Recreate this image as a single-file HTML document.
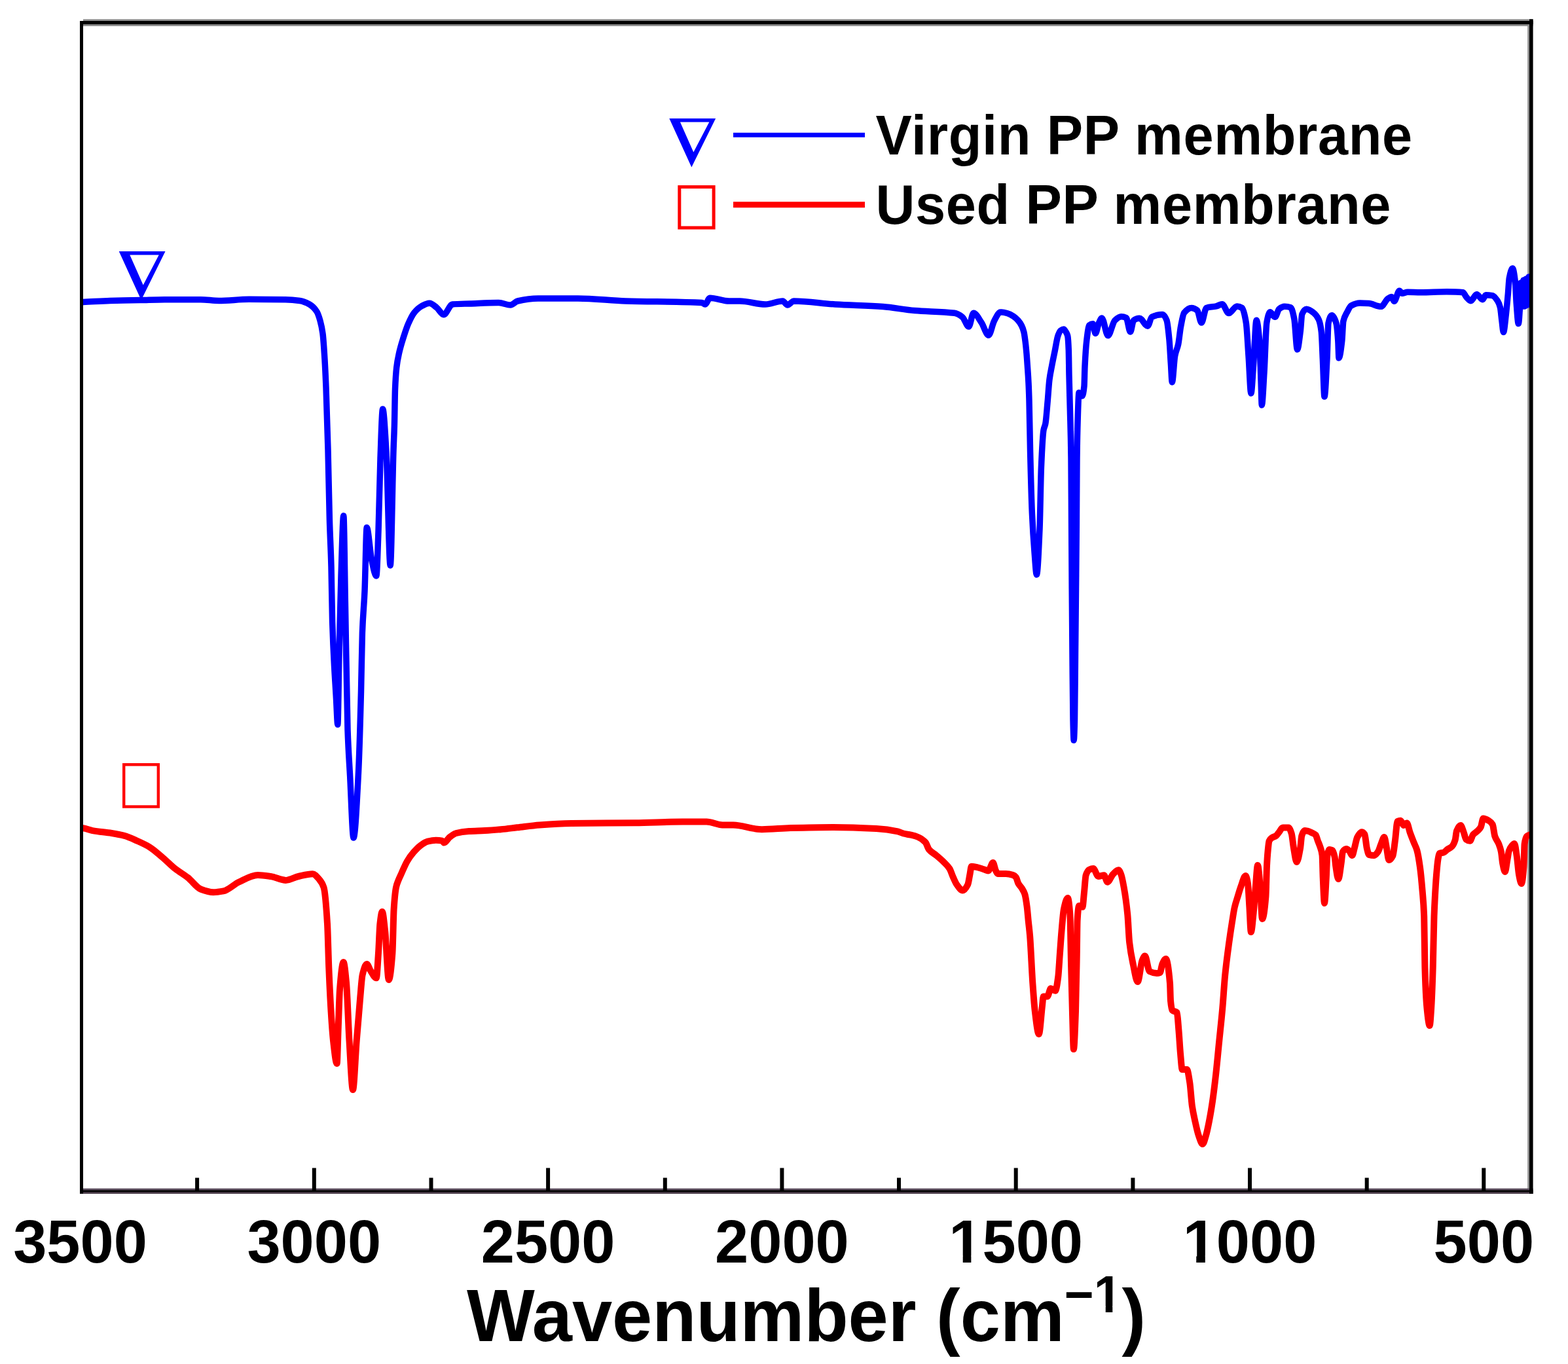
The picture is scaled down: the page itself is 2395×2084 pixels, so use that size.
<!DOCTYPE html>
<html><head><meta charset="utf-8"><title>FTIR spectra</title>
<style>html,body{margin:0;padding:0;background:#fff;}svg{display:block;}text{font-family:"Liberation Sans",sans-serif;font-weight:bold;fill:#000;}</style>
</head><body>
<svg width="2395" height="2084" viewBox="0 0 2395 2084">
<rect x="0" y="0" width="2395" height="2084" fill="#fff"/>
<defs><clipPath id="c"><rect x="124.5" y="34.6" width="2214.1" height="1785.2"/></clipPath></defs>
<rect x="2333.2" y="37" width="2.8" height="1780" fill="#8f8f8f"/>
<g clip-path="url(#c)" fill="none" stroke-linejoin="round" stroke-linecap="round">
<path d="M124.00,461.50C125.00,461.47 126.00,461.44 127.00,461.40C140.67,460.89 154.33,459.88 168.00,459.50C183.43,459.07 198.87,458.94 214.30,458.60C226.60,458.33 238.90,457.70 251.20,457.70C269.67,457.70 288.13,457.70 306.60,457.70C315.83,457.70 325.07,459.50 334.30,459.50C349.67,459.50 365.03,457.30 380.40,457.30C398.87,457.30 417.33,457.42 435.80,457.70C443.17,457.81 450.53,458.47 457.90,459.50C462.83,460.19 467.77,462.27 472.70,465.00C476.40,467.04 480.10,470.32 483.80,476.00C485.53,478.66 487.27,483.85 489.00,490.00C490.33,494.73 491.67,500.09 493.00,510.00C494.00,517.43 495.00,533.44 496.00,550.00C496.67,561.04 497.33,575.39 498.00,592.00C499.00,616.92 500.00,649.74 501.00,687.00C501.80,716.81 502.60,766.58 503.40,794.00C504.27,823.70 505.13,833.78 506.00,866.00C506.53,885.82 507.07,933.10 507.60,950.00C509.57,1012.30 511.53,1032.34 513.50,1068.00C514.27,1081.90 515.03,1107.00 515.80,1107.00C516.53,1107.00 517.27,1032.35 518.00,1000.00C519.00,955.88 520.00,910.46 521.00,880.00C522.27,841.42 523.53,788.00 524.80,788.00C525.70,788.00 526.60,879.73 527.50,927.00C528.67,988.28 529.83,1081.61 531.00,1115.00C532.20,1149.34 533.40,1162.76 534.60,1185.00C536.40,1218.36 538.20,1280.00 540.00,1280.00C542.50,1280.00 545.00,1228.58 547.50,1180.00C548.83,1154.09 550.17,1106.98 551.50,1056.00C552.13,1031.79 552.77,984.12 553.40,967.00C554.60,934.57 555.80,930.03 557.00,903.00C558.07,878.97 559.13,806.00 560.20,806.00C562.67,806.00 565.13,843.78 567.60,855.00C570.00,865.92 572.40,880.00 574.80,880.00C575.87,880.00 576.93,840.98 578.00,812.00C579.00,784.84 580.00,726.97 581.00,700.00C582.20,667.63 583.40,625.00 584.60,625.00C586.40,625.00 588.20,659.95 590.00,690.00C592.07,724.50 594.13,864.00 596.20,864.00C597.80,864.00 599.40,736.58 601.00,688.00C601.47,673.83 601.93,666.62 602.40,650.00C602.77,636.94 603.13,604.08 603.50,595.00C604.23,576.84 604.97,567.96 605.70,561.60C607.00,550.33 608.30,545.14 609.60,539.30C611.67,530.01 613.73,523.63 615.80,517.00C618.40,508.66 621.00,500.53 623.60,494.60C626.57,487.84 629.53,481.54 632.50,477.90C636.23,473.32 639.97,469.88 643.70,467.90C647.80,465.72 651.90,463.30 656.00,463.30C659.67,463.30 663.33,467.21 667.00,470.00C670.53,472.69 674.07,480.70 677.60,480.70C682.07,480.70 686.53,465.40 691.00,465.00C699.83,464.21 708.67,464.22 717.50,463.90C732.13,463.37 746.77,462.50 761.40,462.50C767.47,462.50 773.53,466.00 779.60,466.00C783.27,466.00 786.93,460.84 790.60,460.00C801.07,457.60 811.53,456.00 822.00,456.00C842.27,456.00 862.53,456.00 882.80,456.00C907.10,456.00 931.40,459.22 955.70,460.00C994.47,461.24 1033.23,460.28 1072.00,462.50C1073.67,462.60 1075.33,465.00 1077.00,465.00C1079.47,465.00 1081.93,455.20 1084.40,455.20C1094.10,455.20 1103.80,460.00 1113.50,460.00C1119.00,460.00 1124.50,460.00 1130.00,460.00C1142.97,460.00 1155.93,465.00 1168.90,465.00C1177.80,465.00 1186.70,460.00 1195.60,460.00C1198.00,460.00 1200.40,466.00 1202.80,466.00C1206.07,466.00 1209.33,460.00 1212.60,460.00C1233.63,460.00 1254.67,463.71 1275.70,465.00C1300.00,466.49 1324.30,466.83 1348.60,468.60C1364.73,469.77 1380.87,473.27 1397.00,474.60C1417.27,476.28 1437.53,475.64 1457.80,478.30C1461.87,478.83 1465.93,481.29 1470.00,484.40C1473.23,486.87 1476.47,499.00 1479.70,499.00C1482.13,499.00 1484.57,478.30 1487.00,478.30C1491.00,478.30 1495.00,487.04 1499.00,492.80C1502.67,498.08 1506.33,512.30 1510.00,512.30C1512.83,512.30 1515.67,495.59 1518.50,490.40C1521.67,484.60 1524.83,477.00 1528.00,477.00C1528.67,477.00 1529.33,477.00 1530.00,477.00C1532.97,477.00 1535.93,477.92 1538.90,478.75C1541.90,479.59 1544.90,481.27 1547.90,483.20C1550.27,484.72 1552.63,486.84 1555.00,489.50C1556.80,491.52 1558.60,493.93 1560.40,497.50C1561.57,499.81 1562.73,502.58 1563.90,507.30C1564.67,510.40 1565.43,516.36 1566.20,522.50C1566.80,527.30 1567.40,533.43 1568.00,540.40C1568.43,545.44 1568.87,551.87 1569.30,558.20C1569.87,566.48 1570.43,573.49 1571.00,585.00C1571.33,591.77 1571.67,600.48 1572.00,611.80C1572.53,629.92 1573.07,669.15 1573.60,690.80C1574.53,728.69 1575.47,763.78 1576.40,784.50C1577.60,811.14 1578.80,827.91 1580.00,843.00C1581.13,857.25 1582.27,878.00 1583.40,878.00C1584.93,878.00 1586.47,843.23 1588.00,808.00C1588.80,789.62 1589.60,732.57 1590.40,714.00C1591.60,686.15 1592.80,663.59 1594.00,657.00C1594.93,651.88 1595.87,652.12 1596.80,647.40C1597.90,641.84 1599.00,626.11 1600.10,614.00C1601.03,603.73 1601.97,587.77 1602.90,580.40C1604.20,570.13 1605.50,565.01 1606.80,558.10C1608.30,550.12 1609.80,543.23 1611.30,535.80C1612.80,528.37 1614.30,517.79 1615.80,513.50C1617.20,509.50 1618.60,506.00 1620.00,505.00C1621.57,503.88 1623.13,503.00 1624.70,503.00C1625.80,503.00 1626.90,505.23 1628.00,507.00C1628.93,508.50 1629.87,509.48 1630.80,513.50C1631.30,515.65 1631.80,522.72 1632.30,535.00C1632.53,540.73 1632.77,563.25 1633.00,574.00C1633.47,595.49 1633.93,607.73 1634.40,627.00C1634.93,649.02 1635.47,658.18 1636.00,700.00C1636.20,715.68 1636.40,766.67 1636.60,800.00C1636.80,833.33 1637.00,871.23 1637.20,900.00C1637.47,938.36 1637.73,970.25 1638.00,1000.00C1638.33,1037.19 1638.67,1086.06 1639.00,1100.00C1639.40,1116.72 1639.80,1131.00 1640.20,1131.00C1640.63,1131.00 1641.07,1117.15 1641.50,1100.00C1641.83,1086.81 1642.17,1033.33 1642.50,1000.00C1642.83,966.67 1643.17,935.12 1643.50,900.00C1643.80,868.39 1644.10,840.54 1644.40,800.00C1644.60,772.97 1644.80,716.36 1645.00,700.00C1645.40,667.27 1645.80,652.63 1646.20,640.00C1646.80,621.05 1647.40,600.00 1648.00,600.00C1649.67,600.00 1651.33,605.00 1653.00,605.00C1654.00,605.00 1655.00,599.73 1656.00,590.00C1656.33,586.76 1656.67,566.83 1657.00,560.00C1657.93,540.86 1658.87,527.85 1659.80,520.00C1661.13,508.79 1662.47,498.10 1663.80,497.00C1665.60,495.51 1667.40,494.70 1669.20,494.70C1670.53,494.70 1671.87,509.50 1673.20,509.50C1674.97,509.50 1676.73,497.14 1678.50,493.40C1680.00,490.23 1681.50,486.00 1683.00,486.00C1686.10,486.00 1689.20,512.80 1692.30,512.80C1695.83,512.80 1699.37,492.65 1702.90,489.40C1706.13,486.42 1709.37,483.70 1712.60,483.70C1715.13,483.70 1717.67,484.39 1720.20,485.60C1722.30,486.61 1724.40,507.00 1726.50,507.00C1728.20,507.00 1729.90,490.47 1731.60,489.30C1734.53,487.28 1737.47,486.20 1740.40,486.20C1744.60,486.20 1748.80,498.20 1753.00,498.20C1755.10,498.20 1757.20,485.30 1759.30,484.30C1764.80,481.69 1770.30,480.50 1775.80,480.50C1777.87,480.50 1779.93,484.10 1782.00,489.30C1783.30,492.57 1784.60,505.07 1785.90,518.40C1786.73,526.95 1787.57,543.92 1788.40,556.30C1789.03,565.71 1789.67,584.00 1790.30,584.00C1791.77,584.00 1793.23,551.14 1794.70,543.60C1796.37,535.04 1798.03,533.93 1799.70,526.00C1800.97,519.98 1802.23,506.13 1803.50,499.40C1805.20,490.37 1806.90,480.15 1808.60,478.00C1812.40,473.18 1816.20,470.40 1820.00,470.40C1822.93,470.40 1825.87,471.89 1828.80,474.20C1830.90,475.85 1833.00,493.10 1835.10,493.10C1837.63,493.10 1840.17,471.28 1842.70,470.40C1847.73,468.65 1852.77,469.08 1857.80,467.90C1860.77,467.21 1863.73,464.70 1866.70,464.70C1870.07,464.70 1873.43,478.60 1876.80,478.60C1881.00,478.60 1885.20,467.90 1889.40,467.90C1891.93,467.90 1894.47,468.83 1897.00,470.40C1899.10,471.70 1901.20,480.49 1903.30,493.10C1904.53,500.51 1905.77,526.14 1907.00,543.60C1908.30,562.01 1909.60,601.00 1910.90,601.00C1912.13,601.00 1913.37,572.70 1914.60,556.30C1916.10,536.36 1917.60,489.30 1919.10,489.30C1920.57,489.30 1922.03,502.16 1923.50,518.40C1924.33,527.63 1925.17,558.91 1926.00,581.50C1926.43,593.25 1926.87,619.00 1927.30,619.00C1928.53,619.00 1929.77,588.86 1931.00,569.00C1932.27,548.60 1933.53,500.37 1934.80,493.10C1936.50,483.34 1938.20,476.70 1939.90,476.70C1942.43,476.70 1944.97,484.30 1947.50,484.30C1949.60,484.30 1951.70,473.58 1953.80,472.00C1956.53,469.94 1959.27,468.30 1962.00,468.30C1965.13,468.30 1968.27,468.73 1971.40,469.70C1973.20,470.26 1975.00,478.16 1976.80,487.00C1978.37,494.69 1979.93,534.00 1981.50,534.00C1983.07,534.00 1984.63,518.92 1986.20,507.00C1987.07,500.41 1987.93,482.03 1988.80,480.00C1991.03,474.76 1993.27,472.30 1995.50,472.30C1999.10,472.30 2002.70,475.02 2006.30,477.70C2008.97,479.69 2011.63,482.50 2014.30,488.40C2015.63,491.35 2016.97,496.17 2018.30,507.00C2018.97,512.42 2019.63,533.47 2020.30,547.40C2021.20,566.20 2022.10,606.00 2023.00,606.00C2024.33,606.00 2025.67,573.51 2027.00,547.40C2027.67,534.35 2028.33,496.97 2029.00,493.80C2030.80,485.25 2032.60,481.70 2034.40,481.70C2036.60,481.70 2038.80,486.35 2041.00,493.80C2041.93,496.96 2042.87,507.46 2043.80,520.60C2044.20,526.23 2044.60,547.00 2045.00,547.00C2046.60,547.00 2048.20,534.29 2049.80,520.60C2050.47,514.89 2051.13,494.16 2051.80,491.00C2053.60,482.46 2055.40,481.21 2057.20,477.70C2059.43,473.34 2061.67,468.22 2063.90,467.00C2068.37,464.57 2072.83,463.00 2077.30,463.00C2081.77,463.00 2086.23,463.27 2090.70,463.60C2096.93,464.06 2103.17,468.30 2109.40,468.30C2112.93,468.30 2116.47,458.62 2120.00,456.30C2121.83,455.09 2123.67,453.60 2125.50,453.60C2126.83,453.60 2128.17,460.30 2129.50,460.30C2132.17,460.30 2134.83,444.20 2137.50,444.20C2138.87,444.20 2140.23,448.20 2141.60,448.20C2144.40,448.20 2147.20,446.20 2150.00,446.20C2156.63,446.20 2163.27,446.70 2169.90,446.70C2183.17,446.70 2196.43,445.70 2209.70,445.70C2218.00,445.70 2226.30,445.88 2234.60,446.70C2236.27,446.86 2237.93,451.89 2239.60,453.70C2241.90,456.20 2244.20,459.70 2246.50,459.70C2249.50,459.70 2252.50,449.70 2255.50,449.70C2258.50,449.70 2261.50,457.70 2264.50,457.70C2266.17,457.70 2267.83,450.70 2269.50,450.70C2272.80,450.70 2276.10,451.08 2279.40,451.70C2282.07,452.20 2284.73,455.71 2287.40,459.70C2288.73,461.69 2290.07,464.35 2291.40,469.60C2292.23,472.88 2293.07,483.30 2293.90,489.60C2294.73,495.90 2295.57,507.50 2296.40,507.50C2297.73,507.50 2299.07,490.81 2300.40,479.60C2301.37,471.47 2302.33,460.67 2303.30,449.70C2303.97,442.14 2304.63,428.30 2305.30,424.80C2306.97,416.06 2308.63,410.00 2310.30,410.00C2311.63,410.00 2312.97,418.84 2314.30,429.80C2314.97,435.28 2315.63,456.10 2316.30,464.70C2317.30,477.60 2318.30,494.50 2319.30,494.50C2320.03,494.50 2320.77,481.63 2321.50,470.00C2322.00,462.07 2322.50,432.00 2323.00,432.00C2323.67,432.00 2324.33,468.00 2325.00,468.00C2325.67,468.00 2326.33,428.00 2327.00,428.00C2327.67,428.00 2328.33,468.00 2329.00,468.00C2329.67,468.00 2330.33,426.00 2331.00,426.00C2331.67,426.00 2332.33,466.00 2333.00,466.00C2333.67,466.00 2334.33,423.00 2335.00,423.00C2335.83,423.00 2336.67,423.67 2337.50,424.00" stroke="#0000ff" stroke-width="9.5"/>
<path d="M124.00,1265.00C125.00,1265.10 126.00,1265.17 127.00,1265.30C131.80,1265.93 136.60,1268.22 141.40,1269.10C151.13,1270.89 160.87,1271.42 170.60,1273.00C177.07,1274.05 183.53,1275.17 190.00,1276.90C196.47,1278.63 202.93,1281.82 209.40,1284.70C215.87,1287.58 222.33,1290.41 228.80,1294.40C235.27,1298.39 241.73,1304.53 248.20,1310.00C254.70,1315.50 261.20,1322.30 267.70,1327.40C274.17,1332.48 280.63,1335.90 287.10,1341.00C293.57,1346.10 300.03,1355.99 306.50,1358.50C312.97,1361.01 319.43,1363.30 325.90,1363.30C331.07,1363.30 336.23,1362.40 341.40,1361.40C349.17,1359.89 356.93,1351.33 364.70,1347.80C374.40,1343.39 384.10,1337.10 393.80,1337.10C400.30,1337.10 406.80,1338.10 413.30,1339.00C421.07,1340.08 428.83,1344.90 436.60,1344.90C443.07,1344.90 449.53,1340.45 456.00,1339.00C463.17,1337.39 470.33,1335.20 477.50,1335.20C480.73,1335.20 483.97,1339.37 487.20,1343.00C489.63,1345.73 492.07,1348.28 494.50,1355.80C496.33,1361.47 498.17,1382.06 500.00,1411.60C500.77,1423.95 501.53,1460.07 502.30,1478.60C503.40,1505.18 504.50,1527.98 505.60,1545.50C506.73,1563.55 507.87,1580.13 509.00,1590.00C510.87,1606.26 512.73,1625.00 514.60,1625.00C515.33,1625.00 516.07,1586.83 516.80,1568.00C517.53,1549.17 518.27,1521.23 519.00,1512.00C520.87,1488.51 522.73,1470.00 524.60,1470.00C526.07,1470.00 527.53,1485.79 529.00,1501.00C530.50,1516.56 532.00,1565.64 533.50,1590.00C535.33,1619.78 537.17,1665.00 539.00,1665.00C540.90,1665.00 542.80,1613.81 544.70,1590.00C546.57,1566.61 548.43,1543.29 550.30,1523.00C551.40,1511.04 552.50,1494.42 553.60,1489.70C555.83,1480.12 558.07,1473.00 560.30,1473.00C562.17,1473.00 564.03,1480.21 565.90,1483.00C568.87,1487.44 571.83,1494.20 574.80,1494.20C575.87,1494.20 576.93,1471.64 578.00,1456.00C578.80,1444.27 579.60,1418.57 580.40,1411.60C581.53,1401.72 582.67,1393.00 583.80,1393.00C585.27,1393.00 586.73,1409.82 588.20,1422.80C590.07,1439.32 591.93,1497.00 593.80,1497.00C595.67,1497.00 597.53,1480.19 599.40,1456.00C600.13,1446.50 600.87,1400.26 601.60,1389.00C602.73,1371.60 603.87,1361.13 605.00,1355.80C606.17,1350.32 607.33,1348.06 608.50,1345.00C610.10,1340.80 611.70,1337.71 613.30,1334.20C616.20,1327.84 619.10,1320.59 622.00,1315.70C625.27,1310.19 628.53,1305.90 631.80,1302.10C635.03,1298.34 638.27,1294.81 641.50,1292.40C645.37,1289.52 649.23,1286.54 653.10,1285.60C657.30,1284.58 661.50,1283.70 665.70,1283.70C668.93,1283.70 672.17,1283.99 675.40,1284.70C676.37,1284.91 677.33,1287.60 678.30,1287.60C681.23,1287.60 684.17,1281.00 687.10,1278.80C690.33,1276.37 693.57,1273.83 696.80,1273.00C703.27,1271.34 709.73,1270.53 716.20,1270.10C724.30,1269.57 732.40,1269.54 740.50,1269.10C748.60,1268.66 756.70,1267.95 764.80,1267.20C773.20,1266.42 781.60,1265.26 790.00,1264.30C801.43,1262.99 812.87,1261.21 824.30,1260.40C840.47,1259.26 856.63,1258.25 872.80,1258.00C905.20,1257.50 937.60,1257.60 970.00,1257.20C994.27,1256.90 1018.53,1255.50 1042.80,1255.50C1054.93,1255.50 1067.07,1255.50 1079.20,1255.50C1087.30,1255.50 1095.40,1260.22 1103.50,1260.40C1109.00,1260.52 1114.50,1260.49 1120.00,1260.60C1134.57,1260.89 1149.13,1267.20 1163.70,1267.20C1178.27,1267.20 1192.83,1265.38 1207.40,1265.00C1229.27,1264.43 1251.13,1263.90 1273.00,1263.90C1294.87,1263.90 1316.73,1264.79 1338.60,1266.00C1349.50,1266.61 1360.40,1268.07 1371.30,1270.40C1374.20,1271.02 1377.10,1272.76 1380.00,1273.50C1383.73,1274.46 1387.47,1274.82 1391.20,1275.70C1394.90,1276.58 1398.60,1277.45 1402.30,1279.00C1406.03,1280.56 1409.77,1282.77 1413.50,1286.90C1415.33,1288.93 1417.17,1295.78 1419.00,1298.00C1422.73,1302.51 1426.47,1303.84 1430.20,1307.00C1433.93,1310.16 1437.67,1313.27 1441.40,1317.00C1444.37,1319.96 1447.33,1322.34 1450.30,1327.00C1452.17,1329.93 1454.03,1336.33 1455.90,1340.40C1457.77,1344.47 1459.63,1349.05 1461.50,1351.60C1464.47,1355.66 1467.43,1360.50 1470.40,1360.50C1473.00,1360.50 1475.60,1356.84 1478.20,1351.60C1479.33,1349.31 1480.47,1340.57 1481.60,1334.90C1482.33,1331.23 1483.07,1323.70 1483.80,1323.70C1486.40,1323.70 1489.00,1324.31 1491.60,1324.80C1495.33,1325.50 1499.07,1327.02 1502.80,1328.20C1505.03,1328.91 1507.27,1330.40 1509.50,1330.40C1511.90,1330.40 1514.30,1318.10 1516.70,1318.10C1518.00,1318.10 1519.30,1326.60 1520.60,1329.30C1521.73,1331.66 1522.87,1334.90 1524.00,1334.90C1528.07,1334.90 1532.13,1334.90 1536.20,1334.90C1539.93,1334.90 1543.67,1335.84 1547.40,1337.10C1548.90,1337.61 1550.40,1338.61 1551.90,1340.40C1553.00,1341.71 1554.10,1347.31 1555.20,1349.40C1557.07,1352.94 1558.93,1354.13 1560.80,1357.20C1562.30,1359.67 1563.80,1361.57 1565.30,1366.10C1566.40,1369.42 1567.50,1376.87 1568.60,1385.10C1569.33,1390.59 1570.07,1400.13 1570.80,1407.40C1571.57,1415.00 1572.33,1420.45 1573.10,1429.70C1574.50,1446.58 1575.90,1481.68 1577.30,1501.70C1578.47,1518.38 1579.63,1535.45 1580.80,1545.00C1582.80,1561.37 1584.80,1580.00 1586.80,1580.00C1588.53,1580.00 1590.27,1550.63 1592.00,1536.30C1592.57,1531.61 1593.13,1522.40 1593.70,1522.40C1595.73,1522.40 1597.77,1522.40 1599.80,1522.40C1601.53,1522.40 1603.27,1510.30 1605.00,1510.30C1607.30,1510.30 1609.60,1513.80 1611.90,1513.80C1613.33,1513.80 1614.77,1503.58 1616.20,1493.00C1617.07,1486.61 1617.93,1469.93 1618.80,1458.40C1619.67,1446.87 1620.53,1433.70 1621.40,1423.80C1622.57,1410.47 1623.73,1394.65 1624.90,1389.20C1626.90,1379.86 1628.90,1372.00 1630.90,1372.00C1632.07,1372.00 1633.23,1381.69 1634.40,1397.90C1634.97,1405.78 1635.53,1451.98 1636.10,1475.70C1636.70,1500.81 1637.30,1525.10 1637.90,1545.00C1638.57,1567.11 1639.23,1603.00 1639.90,1603.00C1640.93,1603.00 1641.97,1573.97 1643.00,1545.00C1643.60,1528.18 1644.20,1492.19 1644.80,1458.40C1645.07,1443.38 1645.33,1411.21 1645.60,1406.50C1646.47,1391.20 1647.33,1384.00 1648.20,1384.00C1649.93,1384.00 1651.67,1385.70 1653.40,1385.70C1654.27,1385.70 1655.13,1371.32 1656.00,1363.30C1656.87,1355.28 1657.73,1339.97 1658.60,1337.30C1660.33,1331.95 1662.07,1329.54 1663.80,1328.70C1665.83,1327.71 1667.87,1327.00 1669.90,1327.00C1672.47,1327.00 1675.03,1339.00 1677.60,1339.00C1680.50,1339.00 1683.40,1337.30 1686.30,1337.30C1688.03,1337.30 1689.77,1347.70 1691.50,1347.70C1694.37,1347.70 1697.23,1338.42 1700.10,1335.60C1702.87,1332.88 1705.63,1329.30 1708.40,1329.30C1709.67,1329.30 1710.93,1332.57 1712.20,1335.60C1713.70,1339.19 1715.20,1347.47 1716.70,1355.80C1718.57,1366.17 1720.43,1378.29 1722.30,1397.60C1723.23,1407.26 1724.17,1431.12 1725.10,1439.50C1726.97,1456.25 1728.83,1464.17 1730.70,1473.00C1733.03,1484.03 1735.37,1500.00 1737.70,1500.00C1740.00,1500.00 1742.30,1472.86 1744.60,1467.40C1746.00,1464.08 1747.40,1460.40 1748.80,1460.40C1751.13,1460.40 1753.47,1482.93 1755.80,1484.10C1759.50,1485.96 1763.20,1486.90 1766.90,1486.90C1768.53,1486.90 1770.17,1486.60 1771.80,1486.00C1772.97,1485.57 1774.13,1475.55 1775.30,1473.00C1777.10,1469.07 1778.90,1465.00 1780.70,1465.00C1782.80,1465.00 1784.90,1478.39 1787.00,1502.50C1787.33,1506.33 1787.67,1525.49 1788.00,1529.00C1788.83,1537.78 1789.67,1542.76 1790.50,1543.60C1792.90,1546.03 1795.30,1544.49 1797.70,1547.00C1798.60,1547.94 1799.50,1563.59 1800.40,1574.00C1801.27,1584.03 1802.13,1600.15 1803.00,1609.60C1803.90,1619.41 1804.80,1634.00 1805.70,1634.00C1808.10,1634.00 1810.50,1634.00 1812.90,1634.00C1814.37,1634.00 1815.83,1644.95 1817.30,1654.30C1818.50,1661.95 1819.70,1681.76 1820.90,1690.00C1822.40,1700.30 1823.90,1706.38 1825.40,1713.20C1827.17,1721.23 1828.93,1729.63 1830.70,1734.60C1832.80,1740.50 1834.90,1748.00 1837.00,1748.00C1838.67,1748.00 1840.33,1740.49 1842.00,1735.00C1843.70,1729.40 1845.40,1720.76 1847.10,1712.00C1848.77,1703.41 1850.43,1693.45 1852.10,1682.00C1853.80,1670.32 1855.50,1656.16 1857.20,1641.00C1858.87,1626.14 1860.53,1607.67 1862.20,1591.00C1863.87,1574.33 1865.53,1559.77 1867.20,1541.00C1868.53,1525.99 1869.87,1503.51 1871.20,1490.00C1873.23,1469.40 1875.27,1454.97 1877.30,1440.00C1878.83,1428.71 1880.37,1418.63 1881.90,1409.00C1883.20,1400.84 1884.50,1391.66 1885.80,1386.00C1887.37,1379.18 1888.93,1375.16 1890.50,1370.00C1892.07,1364.84 1893.63,1359.24 1895.20,1355.00C1897.67,1348.33 1900.13,1338.00 1902.60,1338.00C1903.73,1338.00 1904.87,1343.28 1906.00,1350.00C1906.80,1354.74 1907.60,1373.68 1908.40,1386.00C1909.20,1398.32 1910.00,1424.00 1910.80,1424.00C1912.10,1424.00 1913.40,1406.53 1914.70,1394.00C1915.73,1384.04 1916.77,1366.72 1917.80,1355.00C1918.87,1342.90 1919.93,1322.00 1921.00,1322.00C1922.27,1322.00 1923.53,1340.85 1924.80,1355.00C1925.87,1366.92 1926.93,1404.00 1928.00,1404.00C1929.80,1404.00 1931.60,1391.14 1933.40,1370.00C1933.93,1363.74 1934.47,1333.30 1935.00,1323.00C1935.53,1312.70 1936.07,1305.48 1936.60,1300.00C1937.23,1293.49 1937.87,1286.45 1938.50,1285.00C1939.83,1281.96 1941.17,1281.17 1942.50,1280.20C1944.73,1278.58 1946.97,1278.52 1949.20,1276.90C1950.70,1275.81 1952.20,1273.13 1953.70,1271.30C1955.57,1269.02 1957.43,1264.60 1959.30,1264.60C1962.27,1264.60 1965.23,1264.60 1968.20,1264.60C1969.70,1264.60 1971.20,1268.77 1972.70,1273.50C1973.80,1276.97 1974.90,1289.74 1976.00,1295.90C1977.50,1304.30 1979.00,1317.00 1980.50,1317.00C1982.37,1317.00 1984.23,1306.29 1986.10,1295.90C1986.83,1291.82 1987.57,1279.22 1988.30,1276.90C1989.80,1272.16 1991.30,1269.00 1992.80,1269.00C1994.30,1269.00 1995.80,1269.31 1997.30,1269.60C1999.53,1270.04 2001.77,1271.29 2004.00,1272.40C2005.87,1273.33 2007.73,1273.84 2009.60,1275.80C2010.70,1276.95 2011.80,1281.78 2012.90,1284.70C2014.03,1287.71 2015.17,1289.99 2016.30,1293.60C2017.40,1297.11 2018.50,1297.96 2019.60,1307.00C2019.97,1310.01 2020.33,1332.28 2020.70,1340.60C2021.47,1358.00 2022.23,1380.00 2023.00,1380.00C2023.93,1380.00 2024.87,1356.62 2025.80,1340.60C2026.33,1331.45 2026.87,1309.74 2027.40,1307.00C2028.53,1301.18 2029.67,1298.10 2030.80,1298.10C2032.30,1298.10 2033.80,1298.49 2035.30,1299.20C2036.40,1299.72 2037.50,1304.08 2038.60,1309.30C2039.17,1311.99 2039.73,1320.13 2040.30,1323.80C2041.60,1332.21 2042.90,1343.00 2044.20,1343.00C2045.70,1343.00 2047.20,1327.96 2048.70,1318.20C2049.43,1313.43 2050.17,1302.71 2050.90,1301.50C2052.77,1298.43 2054.63,1297.00 2056.50,1297.00C2058.00,1297.00 2059.50,1298.81 2061.00,1300.30C2062.47,1301.75 2063.93,1307.00 2065.40,1307.00C2066.53,1307.00 2067.67,1299.88 2068.80,1295.90C2070.27,1290.75 2071.73,1281.82 2073.20,1279.10C2075.43,1274.96 2077.67,1271.30 2079.90,1271.30C2081.40,1271.30 2082.90,1272.56 2084.40,1274.60C2085.53,1276.14 2086.67,1291.28 2087.80,1295.90C2088.90,1300.39 2090.00,1305.56 2091.10,1305.90C2093.70,1306.70 2096.30,1307.00 2098.90,1307.00C2100.87,1307.00 2102.83,1304.16 2104.80,1301.40C2106.37,1299.20 2107.93,1293.18 2109.50,1289.50C2111.10,1285.74 2112.70,1279.00 2114.30,1279.00C2115.50,1279.00 2116.70,1289.61 2117.90,1295.50C2119.07,1301.23 2120.23,1314.00 2121.40,1314.00C2123.40,1314.00 2125.40,1311.41 2127.40,1307.40C2128.60,1304.99 2129.80,1292.38 2131.00,1283.60C2132.17,1275.07 2133.33,1255.60 2134.50,1255.00C2136.10,1254.18 2137.70,1253.80 2139.30,1253.80C2140.87,1253.80 2142.43,1261.00 2144.00,1261.00C2145.60,1261.00 2147.20,1257.40 2148.80,1257.40C2150.40,1257.40 2152.00,1267.24 2153.60,1271.70C2155.57,1277.18 2157.53,1282.10 2159.50,1287.10C2161.10,1291.17 2162.70,1293.50 2164.30,1299.00C2165.87,1304.38 2167.43,1313.87 2169.00,1325.20C2170.20,1333.88 2171.40,1346.49 2172.60,1361.00C2173.47,1371.48 2174.33,1377.12 2175.20,1400.00C2175.60,1410.56 2176.00,1464.53 2176.40,1478.00C2177.40,1511.67 2178.40,1529.44 2179.40,1539.50C2180.83,1553.92 2182.27,1567.00 2183.70,1567.00C2184.53,1567.00 2185.37,1552.17 2186.20,1539.50C2187.03,1526.83 2187.87,1504.55 2188.70,1478.00C2189.30,1458.88 2189.90,1417.45 2190.50,1400.00C2190.90,1388.37 2191.30,1380.43 2191.70,1372.90C2192.47,1358.47 2193.23,1346.29 2194.00,1337.00C2194.80,1327.31 2195.60,1317.82 2196.40,1313.30C2197.20,1308.78 2198.00,1304.15 2198.80,1303.80C2200.80,1302.93 2202.80,1303.24 2204.80,1302.60C2206.77,1301.97 2208.73,1299.33 2210.70,1297.90C2213.10,1296.15 2215.50,1295.59 2217.90,1293.10C2219.47,1291.47 2221.03,1288.60 2222.60,1283.60C2223.40,1281.05 2224.20,1271.27 2225.00,1269.30C2227.00,1264.37 2229.00,1261.00 2231.00,1261.00C2232.57,1261.00 2234.13,1267.64 2235.70,1271.70C2236.90,1274.81 2238.10,1281.49 2239.30,1282.40C2241.27,1283.90 2243.23,1284.80 2245.20,1284.80C2246.80,1284.80 2248.40,1277.13 2250.00,1275.20C2252.37,1272.35 2254.73,1271.69 2257.10,1269.30C2258.70,1267.68 2260.30,1266.33 2261.90,1263.30C2263.10,1261.03 2264.30,1250.50 2265.50,1250.50C2268.27,1250.50 2271.03,1252.19 2273.80,1253.80C2275.80,1254.96 2277.80,1256.25 2279.80,1259.80C2280.97,1261.87 2282.13,1274.14 2283.30,1277.60C2285.30,1283.54 2287.30,1284.44 2289.30,1289.50C2290.50,1292.54 2291.70,1295.66 2292.90,1301.40C2293.67,1305.07 2294.43,1315.47 2295.20,1319.30C2296.40,1325.29 2297.60,1332.00 2298.80,1332.00C2300.00,1332.00 2301.20,1319.70 2302.40,1313.30C2303.20,1309.03 2304.00,1302.46 2304.80,1300.20C2306.37,1295.78 2307.93,1293.61 2309.50,1291.90C2310.70,1290.59 2311.90,1289.00 2313.10,1289.00C2314.30,1289.00 2315.50,1299.74 2316.70,1307.40C2317.87,1314.85 2319.03,1331.21 2320.20,1337.10C2321.40,1343.16 2322.60,1350.00 2323.80,1350.00C2325.00,1350.00 2326.20,1340.18 2327.40,1325.20C2327.80,1320.21 2328.20,1292.30 2328.60,1289.50C2329.77,1281.32 2330.93,1278.66 2332.10,1277.60C2333.70,1276.15 2335.30,1276.00 2336.90,1275.20" stroke="#ff0000" stroke-width="10.0"/>
</g>
<path d="M181.7,384.0 L252.5,384.0 L215.7,458.5 Z M198.3,389.6 L242.7,389.6 L218.7,435.5 Z" fill="#0000ff" fill-rule="evenodd"/>
<path d="M1022.3,181.0 L1093.1,181.0 L1056.3,255.5 Z M1038.9,186.6 L1083.3,186.6 L1059.3,232.5 Z" fill="#0000ff" fill-rule="evenodd"/>
<rect x="189.2" y="1168.2" width="52.6" height="64.3" fill="none" stroke="#ff0000" stroke-width="4.4"/>
<rect x="1037.8" y="285.6" width="52.3" height="62.4" fill="none" stroke="#ff0000" stroke-width="5"/>
<line x1="1120" y1="206.2" x2="1321" y2="206.2" stroke="#0000ff" stroke-width="7"/>
<line x1="1120" y1="312.8" x2="1321" y2="312.8" stroke="#ff0000" stroke-width="9"/>
<text transform="translate(1337.5,235.8) scale(1,1.035)" x="0" y="0" font-size="83" letter-spacing="0.65">Virgin PP membrane</text>
<text transform="translate(1337.5,341.7) scale(1,1.035)" x="0" y="0" font-size="83" letter-spacing="0.6">Used PP membrane</text>
<rect x="127" y="29.3" width="2214.6" height="10.6" fill="#8c8c8c"/>
<rect x="127" y="1815.7" width="2214.6" height="8.1" fill="#5e5060"/>
<rect x="122" y="1821" width="2219.6" height="2.8" fill="#4a3c48"/>
<rect x="122" y="32" width="2219.6" height="5.1" fill="#000"/>
<rect x="122" y="1818.5" width="2219.6" height="2.6" fill="#000"/>
<rect x="122" y="32" width="5" height="1791.8" fill="#000"/>
<rect x="2336" y="29.3" width="5.6" height="1794.5" fill="#000"/>
<line x1="301.1" y1="1799.5" x2="301.1" y2="1819.8" stroke="#000" stroke-width="6.0"/>
<line x1="479.8" y1="1784.5" x2="479.8" y2="1819.8" stroke="#000" stroke-width="6.0"/>
<line x1="658.5" y1="1799.5" x2="658.5" y2="1819.8" stroke="#000" stroke-width="6.0"/>
<line x1="837.1" y1="1784.5" x2="837.1" y2="1819.8" stroke="#000" stroke-width="6.0"/>
<line x1="1015.8" y1="1799.5" x2="1015.8" y2="1819.8" stroke="#000" stroke-width="6.0"/>
<line x1="1194.4" y1="1784.5" x2="1194.4" y2="1819.8" stroke="#000" stroke-width="6.0"/>
<line x1="1373.0" y1="1799.5" x2="1373.0" y2="1819.8" stroke="#000" stroke-width="6.0"/>
<line x1="1551.7" y1="1784.5" x2="1551.7" y2="1819.8" stroke="#000" stroke-width="6.0"/>
<line x1="1730.4" y1="1799.5" x2="1730.4" y2="1819.8" stroke="#000" stroke-width="6.0"/>
<line x1="1909.0" y1="1784.5" x2="1909.0" y2="1819.8" stroke="#000" stroke-width="6.0"/>
<line x1="2087.7" y1="1799.5" x2="2087.7" y2="1819.8" stroke="#000" stroke-width="6.0"/>
<line x1="2266.3" y1="1784.5" x2="2266.3" y2="1819.8" stroke="#000" stroke-width="6.0"/>
<text x="122.5" y="1929" font-size="92" text-anchor="middle">3500</text>
<text x="479.8" y="1929" font-size="92" text-anchor="middle">3000</text>
<text x="837.1" y="1929" font-size="92" text-anchor="middle">2500</text>
<text x="1194.4" y="1929" font-size="92" text-anchor="middle">2000</text>
<text x="1551.7" y="1929" font-size="92" text-anchor="middle">1500</text>
<text x="1909.0" y="1929" font-size="92" text-anchor="middle">1000</text>
<text x="2266.3" y="1929" font-size="92" text-anchor="middle">500</text>
<text transform="translate(713,2049) scale(1,1.033)" x="0" y="0" font-size="110">Wavenumber (cm<tspan font-size="77" dy="-43">−1</tspan><tspan dy="43">)</tspan></text>
<rect x="1453" y="1918.6" width="17.72" height="11.0" fill="#fff"/>
<rect x="1483.34" y="1918.6" width="16.16" height="11.0" fill="#fff"/>
<rect x="1811" y="1918.6" width="16.24" height="11.0" fill="#fff"/>
<rect x="1840.82" y="1918.6" width="16.18" height="11.0" fill="#fff"/>
<rect x="1673.5" y="1995.6" width="15.23" height="9.8" fill="#fff"/>
<rect x="1699.28" y="1995.6" width="13.72" height="9.8" fill="#fff"/>
</svg></body></html>
